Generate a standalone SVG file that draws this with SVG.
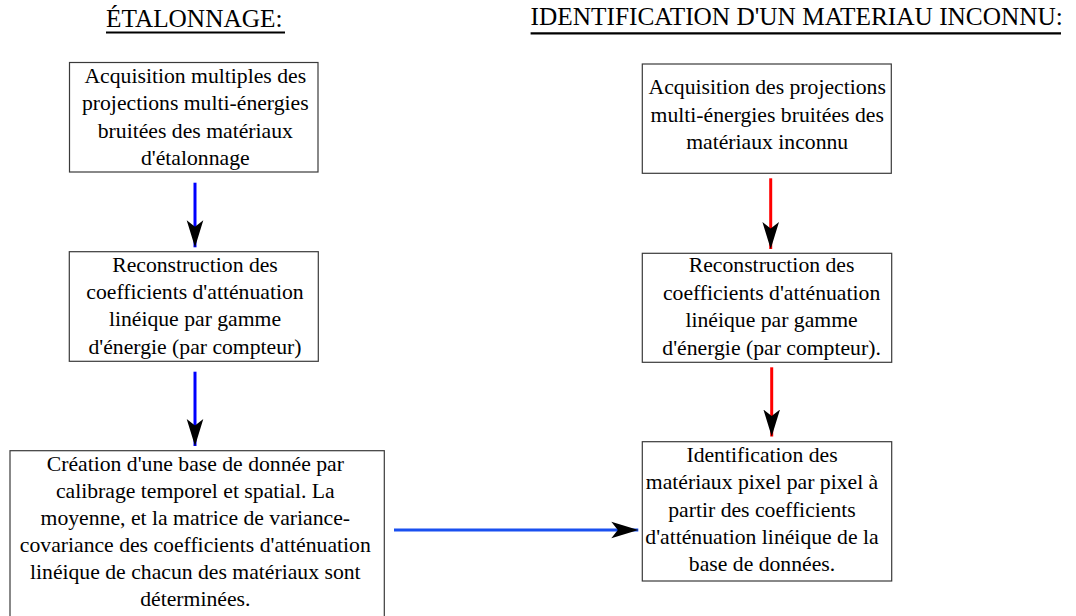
<svg xmlns="http://www.w3.org/2000/svg" width="1076" height="616" viewBox="0 0 1076 616">
  <style>
    .box { fill: #ffffff; stroke: #3a3a3a; stroke-width: 1.2; }
    .t { font-size: 21.7px; fill: #000; text-anchor: middle; }
    .title { font-size: 25.3px; fill: #000; }
    .ul { stroke: #000; stroke-width: 2.2; }
    .blue { stroke: #0000ff; stroke-width: 3; fill: none; }
    .blue2 { stroke: #1a50f0; stroke-width: 3; fill: none; }
    .red { stroke: #ff0000; stroke-width: 3; fill: none; }
  </style>
  <defs>
    <marker id="ah" viewBox="0 0 28 18" refX="27" refY="9" markerWidth="28" markerHeight="18" markerUnits="userSpaceOnUse" orient="auto">
      <path d="M27,9 L0,0.7 L6.5,9 L0,17.3 Z" fill="#000"/>
    </marker>
  </defs>
  <rect width="1076" height="616" fill="#ffffff"/>

  <g font-family="Liberation Serif, Times New Roman, Times, DejaVu Serif, serif">
  <g id="title-etalonnage">
    <text class="title" x="106" y="26.7">ÉTALONNAGE:</text>
    <line class="ul" x1="106" y1="32.5" x2="285" y2="32.5"/>
  </g>
  <g id="title-identification">
    <text class="title" x="530.6" y="25">IDENTIFICATION D'UN MATERIAU INCONNU:</text>
    <line class="ul" x1="530.6" y1="33.3" x2="1061" y2="33.3"/>
  </g>

  <g id="connectors">
    <line class="blue" x1="195" y1="182.7" x2="195" y2="247.3" marker-end="url(#ah)"/>
    <line class="blue" x1="195" y1="371.7" x2="195" y2="446" marker-end="url(#ah)"/>
    <line class="red" x1="770.7" y1="178.3" x2="770.7" y2="249" marker-end="url(#ah)"/>
    <line class="red" x1="771.7" y1="367.3" x2="771.7" y2="436.5" marker-end="url(#ah)"/>
    <line class="blue2" x1="394" y1="530" x2="638.3" y2="530" marker-end="url(#ah)"/>
  </g>

  <g id="node-acquisition-multiples">
    <rect class="box" x="69.5" y="62.5" width="248.5" height="109.5"/>
    <text class="t" x="195.3" y="83">Acquisition multiples des</text>
    <text class="t" x="195.3" y="110.3">projections multi-énergies</text>
    <text class="t" x="195.3" y="137.6">bruitées des matériaux</text>
    <text class="t" x="195.3" y="164.9">d'étalonnage</text>
  </g>

  <g id="node-reconstruction-left">
    <rect class="box" x="69.3" y="251.7" width="249" height="109.6"/>
    <text class="t" x="195" y="271.7">Reconstruction des</text>
    <text class="t" x="195" y="299">coefficients d'atténuation</text>
    <text class="t" x="195" y="326.3">linéique par gamme</text>
    <text class="t" x="195" y="353.6">d'énergie (par compteur)</text>
  </g>

  <g id="node-creation-base">
    <rect class="box" x="10" y="450.7" width="374.3" height="175"/>
    <text class="t" x="195.3" y="470.7">Création d'une base de donnée par</text>
    <text class="t" x="195.3" y="497.8">calibrage temporel et spatial. La</text>
    <text class="t" x="195.3" y="525">moyenne, et la matrice de variance-</text>
    <text class="t" x="195.3" y="552.3">covariance des coefficients d'atténuation</text>
    <text class="t" x="195.3" y="579.4">linéique de chacun des matériaux sont</text>
    <text class="t" x="195.3" y="606.3">déterminées.</text>
  </g>

  <g id="node-acquisition-inconnu">
    <rect class="box" x="642.3" y="64" width="249" height="109.3"/>
    <text class="t" x="767.2" y="94.3">Acquisition des projections</text>
    <text class="t" x="767.2" y="121.7">multi-énergies bruitées des</text>
    <text class="t" x="767.2" y="149">matériaux inconnu</text>
  </g>

  <g id="node-reconstruction-right">
    <rect class="box" x="642.3" y="253.3" width="249.4" height="109"/>
    <text class="t" x="771.6" y="272.3">Reconstruction des</text>
    <text class="t" x="771.6" y="299.8">coefficients d'atténuation</text>
    <text class="t" x="771.6" y="327.2">linéique par gamme</text>
    <text class="t" x="771.6" y="354.5">d'énergie (par compteur).</text>
  </g>

  <g id="node-identification">
    <rect class="box" x="642.3" y="441.7" width="249.4" height="139.3"/>
    <text class="t" x="762" y="461.7">Identification des</text>
    <text class="t" x="762" y="489.2">matériaux pixel par pixel à</text>
    <text class="t" x="762" y="516.6">partir des coefficients</text>
    <text class="t" x="762" y="544">d'atténuation linéique de la</text>
    <text class="t" x="762" y="571.2">base de données.</text>
  </g>
  </g>
</svg>
